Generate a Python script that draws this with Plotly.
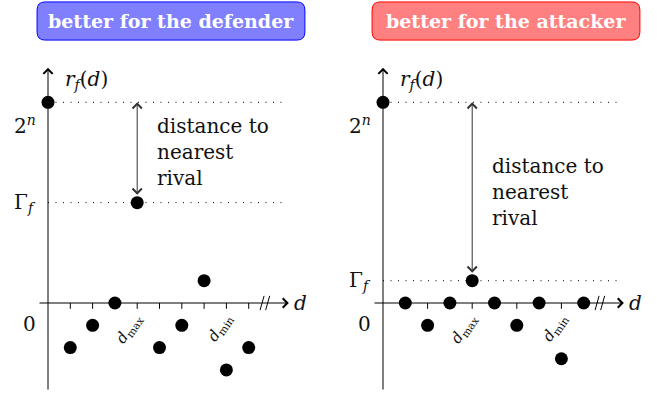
import plotly.graph_objects as go

# values (one unit = one tick step on d)
d_steps = [1, 2, 3, 4, 5, 6, 7, 8, 9]
r_defender = [-2, -1, 0, 4.5, -2, -1, 1, -3, -2]
r_attacker = [0, -1, 0, 1, 0, -1, 0, -2.5, 0]
top_value = 9.0          # 2^n
gamma_defender = 4.5     # Gamma_f, left
gamma_attacker = 1.0     # Gamma_f, right
d_max_at = 4
d_min_at = 8
titles = ["better for the defender", "better for the attacker"]

U = 22.3  # pixels per unit
W, H = 657, 399
FONT = "DejaVu Serif"

fig = go.Figure()
shapes = []
annots = []


def panel(xr, yr, r, gamma, title, fill, edge):
    # dots
    fig.add_trace(go.Scatter(x=[0] + d_steps, y=[top_value] + r, mode="markers",
                             marker=dict(size=13, color="black"),
                             xaxis=xr, yaxis=yr, showlegend=False, hoverinfo="skip"))
    # tick marks
    tx, ty = [], []
    for k in d_steps:
        tx += [k, k, None]
        ty += [0, -0.26, None]
    fig.add_trace(go.Scatter(x=tx, y=ty, mode="lines", line=dict(color="black", width=1),
                             xaxis=xr, yaxis=yr, showlegend=False, hoverinfo="skip"))
    # dotted levels
    for lv in (top_value, gamma):
        shapes.append(dict(type="line", xref=xr, yref=yr, x0=0, x1=10.5, y0=lv, y1=lv,
                           line=dict(color="black", width=1, dash="1px,6.5px"), layer="below"))
    # axis break //
    for bx in (9.6, 9.85):
        shapes.append(dict(type="line", xref=xr, yref=yr, x0=bx - 0.09, x1=bx + 0.09,
                           y0=-0.32, y1=0.32, line=dict(color="black", width=1)))
    # title box
    x0, x1, y0, y1, rr = -0.49, 11.52, 11.79, 13.5, 0.36
    path = (f"M {x0+rr},{y0} L {x1-rr},{y0} Q {x1},{y0} {x1},{y0+rr} L {x1},{y1-rr} "
            f"Q {x1},{y1} {x1-rr},{y1} L {x0+rr},{y1} Q {x0},{y1} {x0},{y1-rr} "
            f"L {x0},{y0+rr} Q {x0},{y0} {x0+rr},{y0} Z")
    shapes.append(dict(type="path", xref=xr, yref=yr, path=path, fillcolor=fill,
                       line=dict(color=edge, width=1)))
    annots.append(dict(xref=xr, yref=yr, x=(x0 + x1) / 2, y=(y0 + y1) / 2, text="<b>" + title + "</b>",
                       showarrow=False, font=dict(family=FONT, size=19, color="white")))
    # axes with arrows
    arrow = dict(xref=xr, yref=yr, axref=xr, ayref=yr, text="", showarrow=True,
                 arrowhead=4, arrowsize=1.8, arrowwidth=1, arrowcolor="black")
    annots.append(dict(arrow, x=0, y=10.55, ax=0, ay=-3.95))
    annots.append(dict(arrow, x=10.8, y=0, ax=-0.45, ay=0))
    # distance arrow
    annots.append(dict(arrow, x=d_max_at, y=top_value, ax=d_max_at, ay=gamma,
                       arrowside="end+start", startarrowhead=4, startarrowsize=1.8,
                       startstandoff=6.5, arrowcolor="#333"))
    annots.append(dict(xref=xr, yref=yr, x=d_max_at + 0.78, y=(top_value + gamma) / 2,
                       text="distance to<br>nearest<br>rival", align="left", xanchor="left",
                       showarrow=False, font=dict(family=FONT, size=20, color="#111")))
    # labels
    lab = dict(xref=xr, yref=yr, showarrow=False, font=dict(family=FONT, size=20, color="#111"))
    annots.append(dict(lab, x=-0.45, y=top_value - 1.0, text="2<sup><i>n</i></sup>", xanchor="right"))
    annots.append(dict(lab, x=-0.45, y=gamma, text="Γ<sub><i>f</i></sub>", xanchor="right"))
    annots.append(dict(lab, x=-0.45, y=-0.95, text="0", xanchor="right"))
    annots.append(dict(lab, x=0.65, y=10.0, text="<i>r</i><sub><i>f</i></sub>(<i>d</i>)", xanchor="left"))
    annots.append(dict(lab, x=10.95, y=0, text="<i>d</i>", xanchor="left"))
    rot = dict(xref=xr, yref=yr, showarrow=False, textangle=-55,
               font=dict(family=FONT, size=15, color="#111"))
    annots.append(dict(rot, x=d_max_at - 0.35, y=-1.15, text="<i>d</i><sub>max</sub>"))
    annots.append(dict(rot, x=d_min_at - 0.28, y=-1.1, text="<i>d</i><sub>min</sub>"))


panel("x", "y", r_defender, gamma_defender, titles[0], "#8080ff", "#0000ff")
panel("x2", "y2", r_attacker, gamma_attacker, titles[1], "#ff8080", "#ff0000")

ax_left, ax_right, ax_y = 48, 383, 303
yrange = [-(H - ax_y) / U, ax_y / U]
fig.update_layout(
    width=W, height=H, margin=dict(l=0, r=0, t=0, b=0),
    paper_bgcolor="white", plot_bgcolor="white",
    xaxis=dict(domain=[0, 0.5], range=[-ax_left / U, (W / 2 - ax_left) / U], visible=False),
    xaxis2=dict(domain=[0.5, 1], range=[-(ax_right - W / 2) / U, (W - ax_right) / U], visible=False),
    yaxis=dict(domain=[0, 1], range=yrange, visible=False),
    yaxis2=dict(domain=[0, 1], range=yrange, visible=False, anchor="x2"),
    shapes=shapes, annotations=annots, showlegend=False,
)

# drop the default page margin so the figure sits at the window's corner
fig.write_html("out.html", config={"displayModeBar": False},
               post_script="document.body.style.margin='0';")
